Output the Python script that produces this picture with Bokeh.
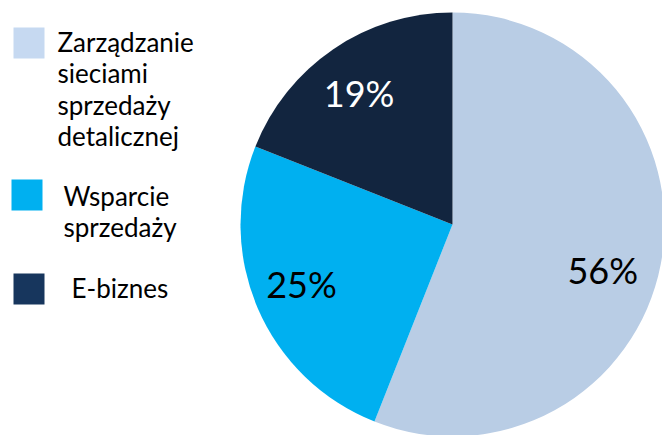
import math
from bokeh.plotting import figure
from bokeh.models import Range1d, ColumnDataSource
from bokeh.core.properties import value
from bokeh.embed import file_html
from bokeh.resources import INLINE

# ---- data ----
categories = ["Zarządzanie sieciami sprzedaży detalicznej", "Wsparcie sprzedaży", "E-biznes"]
shares = [56, 25, 19]
pct_labels = ["56%", "25%", "19%"]
legend_lines = [["Zarządzanie", "sieciami", "sprzedaży", "detalicznej"],
                ["Wsparcie", "sprzedaży"],
                ["E-biznes"]]

# ---- style / layout ----
slice_colors = ["#B9CDE5", "#00B0F0", "#12253F"]
legend_colors = ["#C6D9F1", "#00B0F0", "#17365D"]
label_colors = ["#000000", "#000000", "#FFFFFF"]
FONT = "Lato"
W, H = 662, 435
OFF = 0  # screenshot origin

def fx(px):
    return px - OFF

def fy(py):
    return H - (py - OFF)

cx, cy, R = fx(452), fy(224), 212
label_r = [0.74, 0.765, 0.76]
label_nudge = [-6.0, -2.0, 1.2]  # degrees

p = figure(width=W, height=H, x_range=Range1d(0, W), y_range=Range1d(0, H),
           output_backend="svg", toolbar_location=None, min_border=0)
p.axis.visible = False
p.grid.visible = False
p.outline_line_color = None
p.background_fill_color = "white"
p.border_fill_color = "white"

total = sum(shares)
starts, ends, mids = [], [], []
a = 90.0
for s in shares:
    span = s / total * 360.0
    starts.append(math.radians(a))
    ends.append(math.radians(a - span))
    mids.append(a - span / 2)
    a -= span

src = ColumnDataSource(dict(x=[cx] * 3, y=[cy] * 3, start=starts, end=ends, color=slice_colors))
p.wedge(x="x", y="y", radius=R, start_angle="start", end_angle="end", direction="clock",
        fill_color="color", line_color=None, source=src)

lx, ly = [], []
for m, rf, n in zip(mids, label_r, label_nudge):
    ang = math.radians(m + n)
    lx.append(cx + rf * R * math.cos(ang))
    ly.append(cy + rf * R * math.sin(ang))
p.text(x=lx, y=ly, text=pct_labels, text_color=label_colors, text_font=value(FONT),
       text_font_size="36px", text_align="center", text_baseline="middle")

# legend
sq_centers = [(28.5, 42.5), (26.5, 194.5), (28.5, 288.5)]
text_x = [57, 63, 71]
first_base = [41, 195, 287]
line_step = 31.5
p.rect(x=[fx(c[0]) for c in sq_centers], y=[fy(c[1]) for c in sq_centers], width=31, height=31,
       fill_color=legend_colors, line_color=None)
tx, ty, tt = [], [], []
for lines, x0, b0 in zip(legend_lines, text_x, first_base):
    for i, ln in enumerate(lines):
        tx.append(fx(x0))
        ty.append(fy(b0 + i * line_step))
        tt.append(ln)
p.text(x=tx, y=ty, text=tt, text_color="#000000", text_font=value(FONT), text_font_size="26px",
       text_align="left", text_baseline="alphabetic")

open("out.html", "w").write(file_html(p, INLINE))
